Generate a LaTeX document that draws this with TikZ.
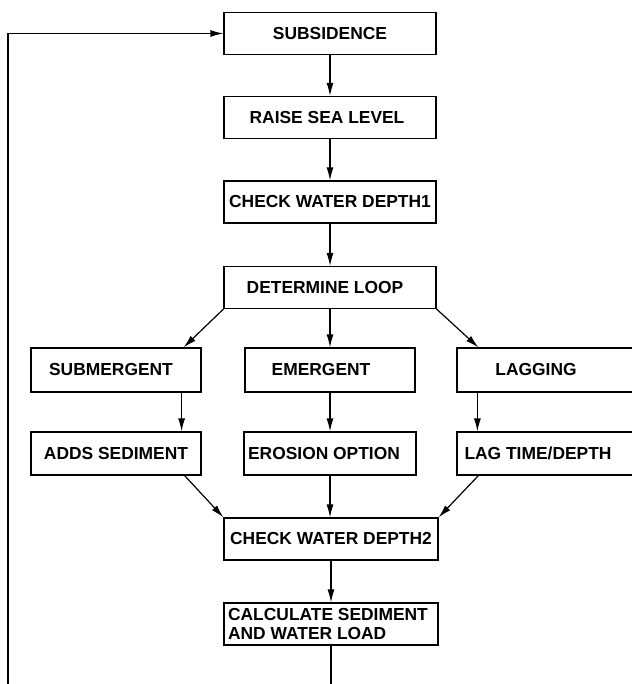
\documentclass[tikz,border=0pt]{standalone}
\usepackage{fontspec}
\setmainfont{Liberation Sans}
\usetikzlibrary{arrows.meta}
\newcommand\txtshiftleft[2]{\hspace*{-#1}#2}
\begin{document}
\begin{tikzpicture}[x=1pt,y=-1pt,
  box/.style={draw, line width=1.2pt, rectangle, inner sep=0pt, font=\bfseries\fontsize{17.4}{18.7}\selectfont},
  big/.style={box, minimum width=212pt, minimum height=42pt},
  small/.style={box, minimum width=170pt, minimum height=43pt},
  wide/.style={box, minimum width=188pt, minimum height=43pt},
  arr/.style={draw, line width=1.2pt, -{Latex[length=13pt,width=7pt]}}]
\useasboundingbox (0,0) rectangle (631,684);
\node[big] (sub) at (330,33.5) {SUBSIDENCE};
\node[big] (rsl) at (330,117.5) {\txtshiftleft{6pt}{RAISE SEA LEVEL}};
\node[big] (cwd1) at (330,202) {CHECK WATER DEPTH1};
\node[big] (dl) at (330,287.5) {\txtshiftleft{10pt}{DETERMINE LOOP}};
\node[small, minimum height=44pt] (subm) at (116,370) {\txtshiftleft{10pt}{SUBMERGENT}};
\node[small, minimum height=44pt] (emer) at (330,370) {\txtshiftleft{18pt}{EMERGENT}};
\node[wide, minimum height=44pt] (lag) at (551,370) {\txtshiftleft{30pt}{LAGGING}};
\node[small] (adds) at (116,453.5) {ADDS SEDIMENT};
\node[small, minimum width=172pt] (eros) at (330,453.5) {\txtshiftleft{12pt}{EROSION OPTION}};
\node[wide] (lagt) at (551,453.5) {\txtshiftleft{26pt}{LAG TIME/DEPTH}};
\node[big, minimum width=214pt] (cwd2) at (331,539) {CHECK WATER DEPTH2};
\node[big, minimum width=214pt, align=left] (calc) at (331,624) {\txtshiftleft{6pt}{CALCULATE SEDIMENT}\\\txtshiftleft{6pt}{AND WATER LOAD}};
\coordinate (a1) at ([xshift=-20pt]subm.south east);
\coordinate (a2) at ([xshift=21pt]lag.south west);
\coordinate (loopc) at (8,700);
\draw[arr] (sub.south) -- (rsl.north);
\draw[arr] (rsl.south) -- (cwd1.north);
\draw[arr] (cwd1.south) -- (dl.north);
\draw[arr] (dl.south west) -- ([xshift=-18pt]subm.north east);
\draw[arr] (dl.south) -- (emer.north);
\draw[arr] (dl.south east) -- ([xshift=22pt]lag.north west);
\draw[arr] (a1) -- (a1 |- adds.north);
\draw[arr] (emer.south) -- (eros.north);
\draw[arr] (a2) -- (a2 |- lagt.north);
\draw[arr] ([xshift=-17pt]adds.south east) -- (cwd2.north west);
\draw[arr] (eros.south) -- (eros.south |- cwd2.north);
\draw[arr] ([xshift=22pt]lagt.south west) -- (cwd2.north east);
\draw[arr] (cwd2.south) -- (calc.north);
\draw[arr] (calc.south) |- (loopc) |- (sub.west);
\end{tikzpicture}
\end{document}
